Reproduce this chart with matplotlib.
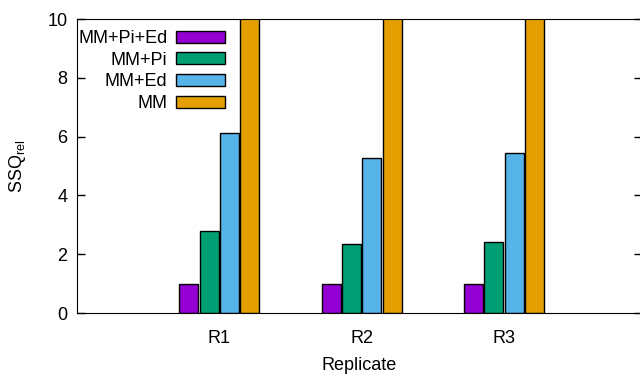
import numpy as np
import matplotlib.pyplot as plt

plt.rcParams['font.family'] = ['Liberation Sans', 'DejaVu Sans']

replicates = ["R1", "R2", "R3"]
series = ["MM+Pi+Ed", "MM+Pi", "MM+Ed", "MM"]
mm_pi_ed = [1.0, 1.0, 1.0]
mm_pi = [2.8, 2.33, 2.43]
mm_ed = [6.11, 5.27, 5.43]
mm = [16.0, 16.0, 16.0]
colors = ["#9400D3", "#009E73", "#56B4E9", "#E69F00"]

fig = plt.figure(figsize=(6.4, 3.76), dpi=100)
ax = fig.add_axes([77/640, 1-313/376, 565/640, 294/376])

x = np.arange(1, len(replicates)+1)
width = 0.134
step = 0.143
values = [mm_pi_ed, mm_pi, mm_ed, mm]
for i in range(4):
    ax.bar(x + (i-1.5)*step, values[i], width, color=colors[i], edgecolor='black',
           linewidth=1, label=series[i])

ax.set_xlim(0, 3.97)
ax.set_ylim(0, 10)
ax.set_yticks([0, 2, 4, 6, 8, 10])
ax.set_xticks(x)
ax.set_xticklabels(replicates)
ax.tick_params(axis='x', length=0, pad=12, labelsize=13)
ax.tick_params(axis='y', direction='in', length=6, width=1, pad=7, labelsize=13, right=True)

ax.set_ylabel("SSQ$_{\\mathregular{rel}}$", fontsize=13)
ax.yaxis.set_label_coords(-0.087, 0.5)
ax.set_xlabel("Replicate", fontsize=13)
ax.xaxis.set_label_coords(0.5, -0.15)

ax.legend(loc='upper left', bbox_to_anchor=(0.002, 0.9626), frameon=False,
          markerfirst=False, fontsize=13, handlelength=2.67, handleheight=0.65,
          handletextpad=0.5, labelspacing=0.26, borderpad=0, borderaxespad=0)

plt.savefig('out.png')
